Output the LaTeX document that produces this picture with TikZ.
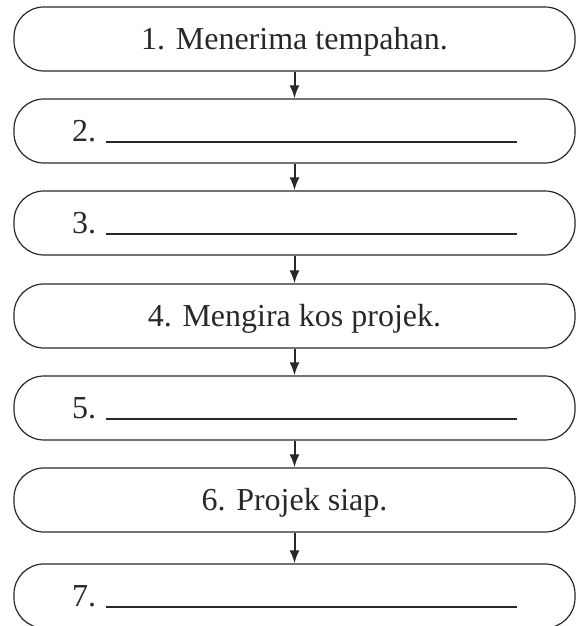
\documentclass[tikz,border=0pt]{standalone}
\usepackage{fontspec}
\setmainfont{Liberation Serif}
\usetikzlibrary{arrows.meta}

\definecolor{inkgray}{RGB}{40,40,40}
\newcommand{\blankline}{\rule[-1pt]{411pt}{1.6pt}}

\tikzset{
  stagebox/.style={draw=inkgray, line width=1.2pt, rounded corners=30pt,
    minimum width=561pt, minimum height=64pt, inner sep=0pt,
    text height=25pt, text depth=3pt, text=inkgray,
    font=\fontsize{32}{36}\selectfont},
  flow/.style={-{Latex[length=13pt,width=10pt]}, line width=2pt, draw=inkgray}
}

\begin{document}
\begin{tikzpicture}[x=1pt,y=1pt]
  \useasboundingbox (0,0) rectangle (576,626);

  % Stages
  \node[stagebox] (s1) at (294.5,587) {1. Menerima tempahan.};
  \node[stagebox] (s2) at (294.5,495) {2.\hspace{10pt}\blankline};
  \node[stagebox] (s3) at (294.5,403) {3.\hspace{10pt}\blankline};
  \node[stagebox] (s4) at (294.5,310) {4. Mengira kos projek.};
  \node[stagebox] (s5) at (294.5,218) {5.\hspace{10pt}\blankline};
  \node[stagebox] (s6) at (294.5,126) {6. Projek siap.};
  \node[stagebox] (s7) at (294.5,30) {7.\hspace{10pt}\blankline};

  % Arrows between stages
  \foreach \a/\b in {s1/s2, s2/s3, s3/s4, s4/s5, s5/s6, s6/s7}
    \draw[flow] (\a.south) -- (\b.north);
\end{tikzpicture}
\end{document}
